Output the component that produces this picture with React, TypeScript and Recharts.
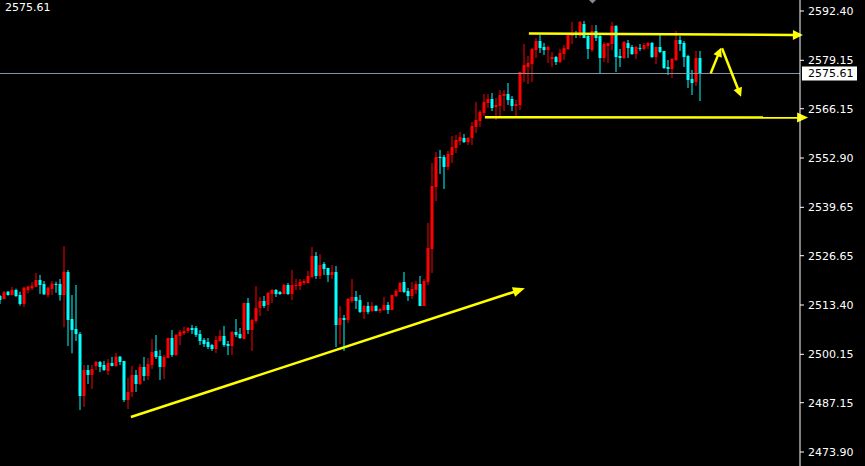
import React from 'react';
import { ComposedChart, Bar, XAxis, YAxis, ReferenceLine, ReferenceDot } from 'recharts';

// ---- OHLC series, one candle per slot ----
const opens = [
  2515.82, 2515.02, 2516.98, 2516.09, 2517.44, 2516.09, 2513.68, 2517.44, 2517.89, 2518.32,
  2520.12, 2519.05, 2516.09, 2517.71, 2519.05, 2519.05, 2516.09, 2522.27, 2509.64, 2506.96,
  2505.61, 2488.95, 2495.94, 2494.60, 2497.02, 2498.09, 2497.28, 2495.67, 2497.82, 2497.02,
  2499.52, 2498.36, 2487.88, 2490.03, 2494.60, 2492.18, 2496.75, 2494.33, 2497.28, 2501.05,
  2499.70, 2496.75, 2499.17, 2504.54, 2499.97, 2505.08, 2505.80, 2506.42, 2507.23, 2507.23,
  2505.61, 2504.00, 2503.46, 2502.66, 2501.58, 2503.73, 2505.08, 2502.93, 2502.39, 2506.15,
  2505.61, 2504.27, 2513.94, 2506.69, 2509.11, 2512.60, 2514.48, 2513.41, 2516.36, 2517.44,
  2516.90, 2516.36, 2518.78, 2516.36, 2518.51, 2518.51, 2519.32, 2519.32, 2520.93, 2526.57,
  2521.20, 2524.42, 2523.35, 2521.47, 2522.27, 2508.03, 2509.91, 2509.38, 2514.48, 2515.56,
  2514.75, 2511.53, 2513.14, 2511.79, 2513.14, 2511.79, 2512.06, 2513.41, 2512.06, 2515.82,
  2516.90, 2519.59, 2517.17, 2515.82, 2517.44, 2519.05, 2513.14, 2519.59, 2528.45, 2545.11,
  2553.17, 2553.17, 2550.49, 2553.71, 2555.59, 2557.47, 2558.28, 2557.20, 2558.28, 2561.24,
  2562.85, 2565.00, 2567.68, 2568.76, 2566.61, 2566.88, 2569.56, 2570.10, 2568.76, 2566.88,
  2567.15, 2575.74, 2577.36, 2578.16, 2581.92, 2584.34, 2582.73, 2581.92, 2579.51, 2580.04,
  2578.70, 2580.85, 2582.19, 2585.69, 2586.49, 2585.69, 2588.91, 2585.69, 2581.92, 2587.03,
  2585.69, 2579.78, 2583.00, 2583.54, 2588.37, 2580.31, 2579.78, 2583.81, 2582.73, 2580.85,
  2582.50, 2582.19, 2583.00, 2583.81, 2580.04, 2582.73, 2581.66, 2577.36, 2576.82, 2579.24,
  2584.61, 2583.81, 2580.31, 2574.13, 2573.33, 2579.78,
];
const highs = [
  2516.09, 2517.17, 2517.17, 2518.24, 2517.79, 2516.98, 2518.32, 2518.60, 2519.60, 2522.00,
  2521.47, 2519.86, 2518.32, 2519.86, 2519.67, 2520.39, 2529.26, 2522.81, 2516.09, 2518.78,
  2506.15, 2497.28, 2497.28, 2497.28, 2498.36, 2498.36, 2498.36, 2498.90, 2499.43, 2500.51,
  2499.70, 2498.40, 2493.79, 2497.02, 2495.94, 2497.55, 2499.43, 2499.17, 2504.27, 2505.35,
  2501.31, 2499.97, 2504.60, 2506.69, 2505.61, 2506.69, 2507.50, 2507.50, 2508.03, 2507.76,
  2506.69, 2504.54, 2504.54, 2502.93, 2505.08, 2506.69, 2507.76, 2503.73, 2506.42, 2509.64,
  2507.23, 2514.00, 2515.29, 2509.64, 2518.51, 2515.56, 2515.82, 2516.90, 2517.71, 2517.71,
  2517.17, 2519.05, 2519.32, 2522.81, 2520.39, 2520.39, 2520.39, 2522.54, 2528.99, 2527.65,
  2527.11, 2524.96, 2523.40, 2524.15, 2523.89, 2513.14, 2510.72, 2515.29, 2520.39, 2517.17,
  2516.09, 2513.41, 2514.21, 2514.21, 2513.41, 2512.60, 2515.56, 2514.21, 2516.15, 2517.71,
  2519.59, 2522.27, 2517.97, 2519.59, 2519.86, 2521.20, 2520.39, 2535.44, 2551.56, 2554.52,
  2555.05, 2553.71, 2554.79, 2558.82, 2559.09, 2559.89, 2559.35, 2558.55, 2562.58, 2567.95,
  2565.80, 2570.10, 2570.10, 2570.37, 2569.03, 2571.18, 2571.18, 2573.06, 2569.56, 2568.49,
  2576.10, 2583.54, 2580.31, 2582.46, 2585.15, 2585.96, 2583.81, 2583.00, 2581.39, 2580.31,
  2582.19, 2583.27, 2586.22, 2589.45, 2587.03, 2589.72, 2589.72, 2586.22, 2588.64, 2588.64,
  2586.22, 2584.07, 2583.85, 2589.45, 2588.64, 2582.19, 2584.34, 2584.61, 2583.27, 2583.00,
  2583.54, 2583.81, 2584.07, 2584.07, 2582.80, 2585.96, 2581.70, 2579.24, 2579.78, 2587.03,
  2585.69, 2584.34, 2580.58, 2576.55, 2581.66, 2581.66,
];
const lows = [
  2513.68, 2514.90, 2515.91, 2516.00, 2515.56, 2513.22, 2512.87, 2516.55, 2517.44, 2518.16,
  2516.36, 2516.09, 2515.47, 2516.09, 2516.71, 2514.56, 2507.41, 2502.39, 2500.43, 2503.73,
  2485.19, 2486.00, 2492.18, 2490.83, 2495.94, 2495.40, 2495.67, 2494.60, 2496.90, 2496.75,
  2497.28, 2487.34, 2485.46, 2488.69, 2490.03, 2491.91, 2492.99, 2493.25, 2496.21, 2498.90,
  2493.25, 2493.52, 2499.10, 2499.43, 2499.70, 2502.66, 2505.35, 2505.88, 2505.61, 2504.81,
  2502.66, 2502.12, 2501.58, 2501.05, 2500.51, 2503.46, 2502.12, 2499.97, 2499.97, 2504.81,
  2504.27, 2504.20, 2505.61, 2501.05, 2508.57, 2510.45, 2512.60, 2511.79, 2513.94, 2515.56,
  2516.09, 2516.30, 2516.09, 2514.75, 2517.44, 2517.44, 2518.78, 2519.20, 2520.66, 2520.39,
  2520.39, 2521.47, 2519.59, 2520.39, 2502.12, 2502.93, 2501.05, 2508.57, 2513.94, 2512.33,
  2511.26, 2509.64, 2510.99, 2511.53, 2511.70, 2511.26, 2511.79, 2510.99, 2512.00, 2515.56,
  2516.85, 2516.63, 2514.48, 2515.02, 2516.36, 2513.10, 2513.10, 2518.78, 2522.00, 2541.35,
  2548.61, 2544.58, 2549.68, 2551.56, 2554.25, 2556.40, 2556.94, 2556.40, 2556.40, 2559.62,
  2561.24, 2564.19, 2566.34, 2565.53, 2563.12, 2563.92, 2565.53, 2567.15, 2565.53, 2563.92,
  2565.80, 2573.33, 2572.79, 2573.33, 2579.78, 2581.12, 2580.58, 2578.43, 2577.36, 2577.89,
  2578.43, 2579.24, 2581.92, 2583.54, 2585.15, 2585.15, 2585.10, 2579.51, 2581.39, 2584.34,
  2575.48, 2578.70, 2578.43, 2581.92, 2576.01, 2577.36, 2579.51, 2579.78, 2580.58, 2579.51,
  2581.66, 2581.92, 2582.19, 2579.78, 2578.16, 2581.12, 2576.82, 2575.21, 2574.40, 2578.97,
  2581.66, 2577.36, 2571.71, 2569.83, 2572.25, 2568.22,
];
const closes = [
  2514.75, 2516.82, 2516.09, 2517.44, 2515.82, 2513.68, 2518.06, 2518.32, 2518.60, 2520.12,
  2518.78, 2516.28, 2518.06, 2519.14, 2518.86, 2516.09, 2522.35, 2509.38, 2506.69, 2505.61,
  2488.95, 2495.94, 2494.60, 2496.21, 2498.09, 2496.75, 2495.94, 2497.82, 2497.02, 2499.52,
  2498.09, 2487.88, 2490.03, 2494.60, 2492.18, 2496.75, 2494.33, 2497.55, 2500.78, 2499.43,
  2496.75, 2499.43, 2504.54, 2499.97, 2505.35, 2506.15, 2506.42, 2507.23, 2506.69, 2505.35,
  2503.73, 2502.93, 2502.12, 2501.58, 2504.00, 2505.08, 2502.66, 2502.39, 2506.15, 2505.35,
  2504.54, 2513.94, 2506.69, 2509.38, 2512.60, 2514.48, 2513.14, 2516.63, 2517.44, 2516.36,
  2516.36, 2518.78, 2516.36, 2518.78, 2518.78, 2519.59, 2519.86, 2521.20, 2526.57, 2521.20,
  2524.15, 2523.08, 2521.47, 2522.27, 2508.03, 2509.91, 2509.38, 2515.02, 2515.56, 2514.48,
  2511.53, 2513.14, 2511.53, 2513.14, 2511.79, 2512.33, 2513.41, 2512.06, 2516.09, 2517.17,
  2519.32, 2516.90, 2515.82, 2517.71, 2519.05, 2513.14, 2519.86, 2528.72, 2545.38, 2553.17,
  2552.91, 2550.49, 2553.98, 2555.86, 2557.74, 2558.55, 2557.20, 2558.28, 2561.50, 2563.12,
  2565.27, 2567.95, 2568.76, 2566.34, 2567.15, 2569.83, 2570.10, 2568.49, 2566.88, 2567.42,
  2576.01, 2577.89, 2578.43, 2582.19, 2584.34, 2582.46, 2581.92, 2582.73, 2580.04, 2578.70,
  2581.12, 2582.46, 2585.96, 2586.22, 2585.96, 2589.45, 2585.15, 2582.19, 2587.03, 2585.15,
  2579.78, 2583.54, 2583.81, 2588.37, 2580.04, 2579.78, 2584.07, 2582.46, 2580.85, 2582.73,
  2582.40, 2583.27, 2583.81, 2580.04, 2582.73, 2581.39, 2577.09, 2576.82, 2579.51, 2584.61,
  2583.54, 2580.04, 2573.86, 2573.06, 2579.78, 2575.61,
];

// ---- axis ticks and reference values ----
const priceTicks = [2592.4, 2579.15, 2566.15, 2552.9, 2539.65, 2526.65, 2513.4, 2500.15, 2487.15, 2473.9];
const priceDomain = [2470.14, 2595.36];
const slotDomain = [-0.125, 199.875];
const lastPrice = 2575.61;

// ---- hand-drawn annotation arrows (slot index, price) ----
const trendArrow = [{ x: 32.6, y: 2483.31 }, { x: 131.1, y: 2517.89 }];
const upperArrow = [{ x: 132.1, y: 2586.36 }, { x: 200.6, y: 2585.96 }];
const lowerArrow = [{ x: 121.1, y: 2563.84 }, { x: 201.9, y: 2563.79 }];
const smallUpArrow = [{ x: 177.55, y: 2575.66 }, { x: 180.13, y: 2582.54 }];
const smallDownArrow = [{ x: 180.38, y: 2582.38 }, { x: 185.13, y: 2569.38 }];
const markerSlot = 148;

const candles = opens.map((o, i) => ({ i, o, h: highs[i], l: lows[i], c: closes[i] }));

const RED = '#ff0000';
const CYAN = '#00ffff';
const YELLOW = '#ffff00';
const PRICE_LINE = '#8595a6';
const FONT = '"DejaVu Sans", Verdana, sans-serif';

function Candle(props: any) {
  const { x, y, width, height, payload } = props;
  if (!payload || typeof x !== 'number' || typeof y !== 'number') return null;
  const { o, h, l, c } = payload;
  const top = Math.min(y, y + height);
  const bot = Math.max(y, y + height);
  const span = h - l;
  const py = (v: number) => (span === 0 ? top : top + ((h - v) / span) * (bot - top));
  const up = c >= o;
  const color = up ? RED : CYAN;
  const cx = x + width / 2;
  const bTop = py(Math.max(o, c));
  const bBot = py(Math.min(o, c));
  return (
    <g>
      <line x1={cx} x2={cx} y1={top} y2={Math.max(bot, top + 1)} stroke={color} strokeWidth={1} />
      <rect x={x} y={bTop} width={width} height={Math.max(1, bBot - bTop)} fill={color} />
    </g>
  );
}

const makeArrow = (headLen: number, headHalf: number, sw: number) => (p: any) => {
  const { x1, y1, x2, y2 } = p;
  if ([x1, y1, x2, y2].some((v) => typeof v !== 'number' || isNaN(v))) return <g />;
  const dx = x2 - x1;
  const dy = y2 - y1;
  const len = Math.hypot(dx, dy) || 1;
  const ux = dx / len;
  const uy = dy / len;
  const bx = x2 - ux * headLen;
  const by = y2 - uy * headLen;
  const nx = -uy;
  const ny = ux;
  return (
    <g>
      <line x1={x1} y1={y1} x2={bx + ux} y2={by + uy} stroke={YELLOW} strokeWidth={sw} />
      <polygon
        points={`${x2},${y2} ${bx + nx * headHalf},${by + ny * headHalf} ${bx - nx * headHalf},${by - ny * headHalf}`}
        fill={YELLOW}
      />
    </g>
  );
};

const PriceLabel = (props: any) => {
  const vb = props.viewBox || {};
  const right = (vb.x || 0) + (vb.width || 0);
  const y = vb.y || 0;
  return (
    <g>
      <rect x={right + 2} y={y - 7} width={55} height={14} fill="#ffffff" />
      <text x={right + 8} y={y} dy="0.355em" fill="#000000" fontSize={11} fontFamily={FONT}>
        {lastPrice.toFixed(2)}
      </text>
    </g>
  );
};

const Marker = (p: any) => {
  const cx = p.cx;
  if (typeof cx !== 'number') return <g />;
  return <polygon points={`${cx - 3.5},0 ${cx + 3.5},0 ${cx},3.5`} fill="#7d8a99" />;
};

export default function App() {
  return (
    <div style={{ position: 'relative', width: 865, height: 466, background: '#000', overflow: 'hidden' }}>
      <style>{`html,body{margin:0;padding:0;background:#000;}`}</style>
      <ComposedChart
        width={865}
        height={466}
        data={candles}
        margin={{ top: 0, right: 0, bottom: 0, left: 0 }}
        style={{ background: '#000' }}
      >
        <XAxis dataKey="i" type="number" domain={slotDomain} allowDataOverflow hide />
        <YAxis
          orientation="right"
          type="number"
          width={65}
          domain={priceDomain}
          allowDataOverflow
          ticks={priceTicks}
          interval={0}
          tickFormatter={(v: number) => v.toFixed(2)}
          axisLine={{ stroke: '#ffffff', strokeWidth: 1 }}
          tickLine={{ stroke: '#ffffff', strokeWidth: 1 }}
          tickSize={4}
          tickMargin={4}
          tick={{ fill: '#ffffff', fontSize: 11, fontFamily: FONT }}
        />
        <ReferenceLine y={lastPrice} stroke={PRICE_LINE} strokeWidth={1} label={PriceLabel} />
        <Bar
          dataKey={(d: any) => [d.l, d.h]}
          barSize={3}
          shape={Candle}
          isAnimationActive={false}
        />
        <ReferenceLine segment={trendArrow} ifOverflow="visible" shape={makeArrow(12, 5, 2.5)} />
        <ReferenceLine segment={upperArrow} ifOverflow="visible" shape={makeArrow(10, 5, 2.5)} />
        <ReferenceLine segment={lowerArrow} ifOverflow="visible" shape={makeArrow(11, 5, 2.5)} />
        <ReferenceLine segment={smallUpArrow} ifOverflow="visible" shape={makeArrow(9, 4.5, 2.5)} />
        <ReferenceLine segment={smallDownArrow} ifOverflow="visible" shape={makeArrow(9, 4.5, 2.5)} />
        <ReferenceDot x={markerSlot} y={priceDomain[1]} ifOverflow="visible" shape={Marker} />
      </ComposedChart>
      <div
        style={{
          position: 'absolute',
          left: 5,
          top: 2,
          color: '#ffffff',
          fontFamily: FONT,
          fontSize: 11,
          lineHeight: '11px',
          pointerEvents: 'none',
        }}
      >
        {lastPrice.toFixed(2)}
      </div>
    </div>
  );
}
